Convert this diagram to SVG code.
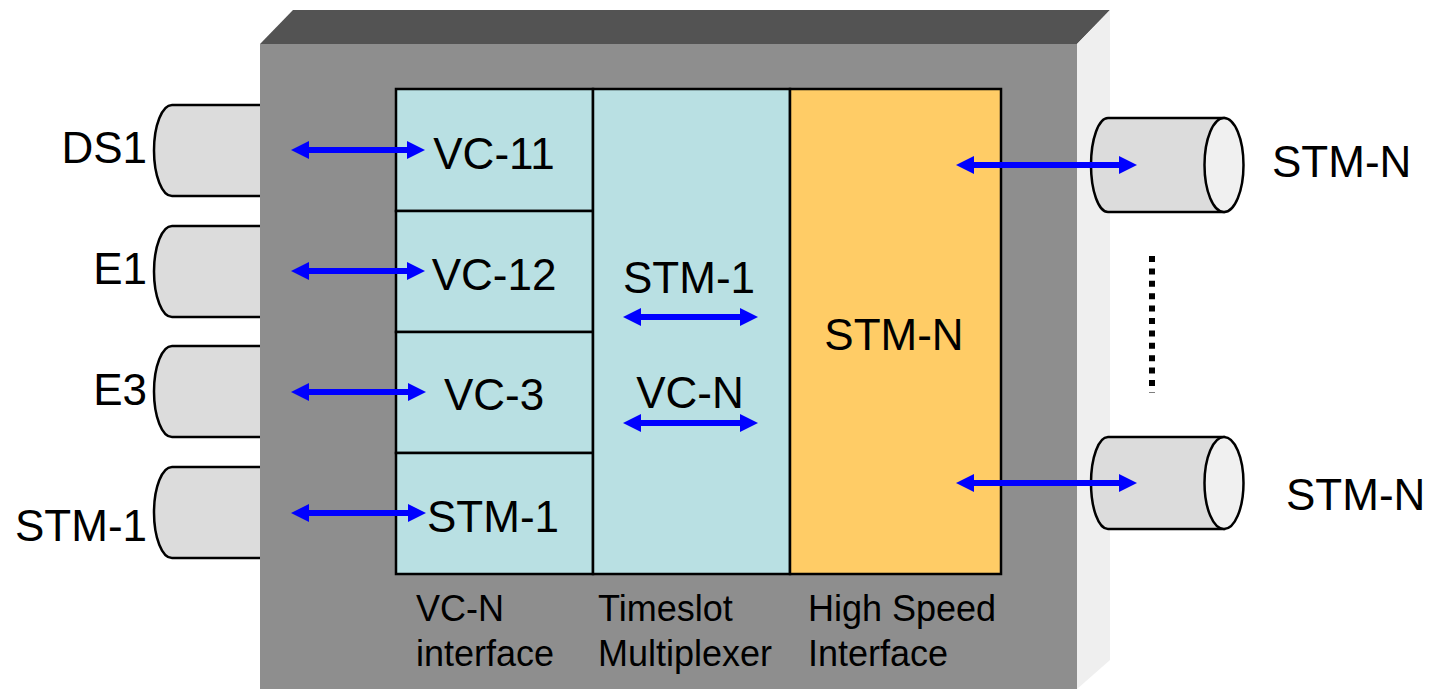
<svg xmlns="http://www.w3.org/2000/svg" width="1429" height="689" viewBox="0 0 1429 689">
<style>
.cyl{fill:#dcdcdc;stroke:#000;stroke-width:2.5}
.cend{fill:#f0f0f0;stroke:#000;stroke-width:2.5}
.big{font-family:"Liberation Sans",Arial,sans-serif;font-size:44px;fill:#000}
.small{font-family:"Liberation Sans",Arial,sans-serif;font-size:36px;fill:#000}
.arr{stroke:#0000ff;stroke-width:6;fill:none;marker-start:url(#ah);marker-end:url(#ah)}
.cell{stroke:#000;stroke-width:2.5}
</style>
<defs>
<marker id="ah" markerUnits="userSpaceOnUse" markerWidth="18" markerHeight="18" refX="2" refY="9" orient="auto-start-reverse" viewBox="0 0 18 18">
<path d="M0,0 L18,9 L0,18 z" fill="#0000ff"/>
</marker>
</defs>
<rect width="1429" height="689" fill="#fff"/>
<g id="left-cylinders">
<g id="cyl-ds1"><path class="cyl" d="M270,105 H172 A18,45.5 0 0 0 172,196 H270 Z"/><text class="big" x="147" y="163" text-anchor="end">DS1</text></g>
<g id="cyl-e1"><path class="cyl" d="M270,226 H172 A18,45.5 0 0 0 172,317 H270 Z"/><text class="big" x="147" y="284" text-anchor="end">E1</text></g>
<g id="cyl-e3"><path class="cyl" d="M270,346 H172 A18,45.5 0 0 0 172,437 H270 Z"/><text class="big" x="147" y="405" text-anchor="end">E3</text></g>
<g id="cyl-stm1"><path class="cyl" d="M270,467 H172 A18,45.5 0 0 0 172,558 H270 Z"/><text class="big" x="147" y="541" text-anchor="end">STM-1</text></g>
</g>
<g id="box">
<polygon points="260,44 293,10 1110,10 1077,44" fill="#535353"/>
<polygon points="1077,44 1110,10 1110,660 1077,689" fill="#efefef"/>
<rect x="260" y="44" width="817" height="645" fill="#8e8e8e"/>
</g>
<g id="vcn-interface">
<rect class="cell" x="396" y="89" width="197" height="122" fill="#b9e0e3"/>
<rect class="cell" x="396" y="211" width="197" height="121" fill="#b9e0e3"/>
<rect class="cell" x="396" y="332" width="197" height="121" fill="#b9e0e3"/>
<rect class="cell" x="396" y="453" width="197" height="121" fill="#b9e0e3"/>
<text class="big" x="494" y="169" text-anchor="middle">VC-11</text>
<text class="big" x="494" y="290" text-anchor="middle">VC-12</text>
<text class="big" x="494" y="410" text-anchor="middle">VC-3</text>
<text class="big" x="493" y="532" text-anchor="middle">STM-1</text>
<text class="small" x="416" y="621">VC-N</text>
<text class="small" x="416" y="666">interface</text>
</g>
<g id="timeslot-mux">
<rect class="cell" x="593" y="89" width="197" height="485" fill="#b9e0e3"/>
<text class="big" x="689" y="293" text-anchor="middle">STM-1</text>
<text class="big" x="690" y="408" text-anchor="middle">VC-N</text>
<text class="small" x="598" y="621">Timeslot</text>
<text class="small" x="598" y="666">Multiplexer</text>
</g>
<g id="high-speed">
<rect class="cell" x="790" y="89" width="211" height="485" fill="#ffcc66"/>
<text class="big" x="894" y="350" text-anchor="middle">STM-N</text>
<text class="small" x="808" y="621">High Speed</text>
<text class="small" x="808" y="666">Interface</text>
</g>
<g id="right-cylinders">
<g id="cyl-stmn-1"><path class="cyl" d="M1224,118 H1108 A17,47 0 0 0 1108,212 H1224 Z"/><ellipse class="cend" cx="1224" cy="165" rx="19.5" ry="47"/><text class="big" x="1272" y="177">STM-N</text></g>
<g id="cyl-stmn-2"><path class="cyl" d="M1224,437 H1108 A17,46 0 0 0 1108,529 H1224 Z"/><ellipse class="cend" cx="1224" cy="483" rx="19.5" ry="46"/><text class="big" x="1286" y="510">STM-N</text></g>
<line id="dots" x1="1152" y1="256" x2="1152" y2="393" stroke="#000" stroke-width="6" stroke-dasharray="6 6.4"/>
</g>
<g id="connectors">
<line class="arr" x1="307" y1="150" x2="409" y2="150"/>
<line class="arr" x1="307" y1="271" x2="409" y2="271"/>
<line class="arr" x1="307" y1="392" x2="410" y2="392"/>
<line class="arr" x1="307" y1="513" x2="410" y2="513"/>
<line class="arr" x1="639" y1="317" x2="742" y2="317"/>
<line class="arr" x1="639" y1="423" x2="742" y2="423"/>
<line class="arr" x1="972" y1="165" x2="1121" y2="165"/>
<line class="arr" x1="972" y1="483" x2="1121" y2="483"/>
</g>
</svg>
